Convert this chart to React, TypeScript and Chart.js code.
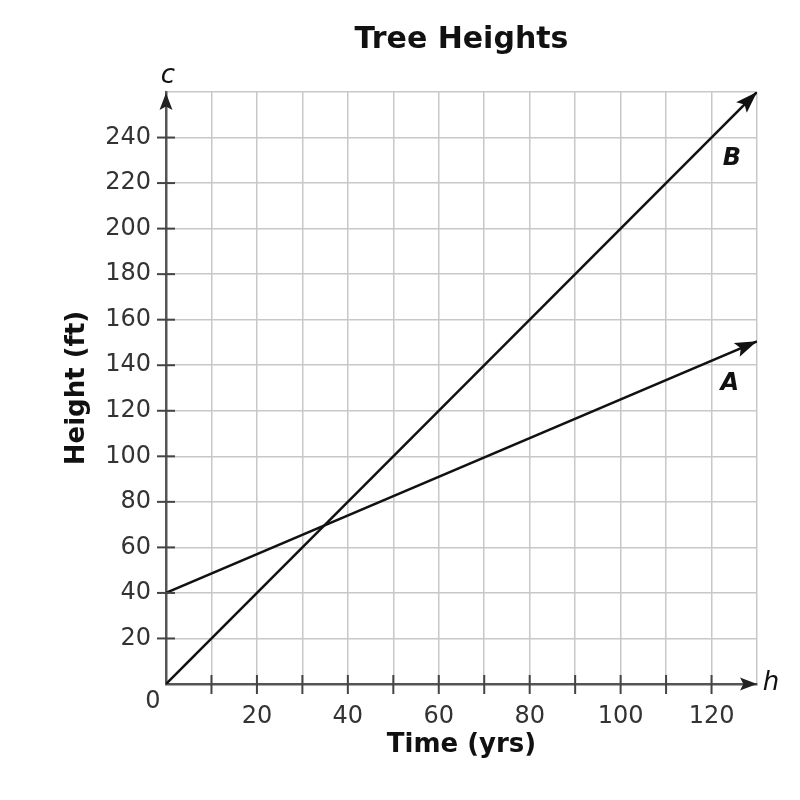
import React, { useEffect, useRef } from "react";
import { Chart, registerables } from "chart.js";

Chart.register(...registerables);

const titleText = "Tree Heights";
const xAxisTitle = "Time (yrs)";
const yAxisTitle = "Height (ft)";
const xRange = [0, 130];
const yRange = [0, 260];
const xStep = 10;
const yStep = 20;
const lineAPoints = [
  { x: 0, y: 40 },
  { x: 130, y: 150.5 },
];
const lineBPoints = [
  { x: 0, y: 0 },
  { x: 130, y: 260 },
];
const lineLabels = [
  { text: "A", x: 124, y: 132 },
  { text: "B", x: 124.5, y: 230.5 },
];

const FONT = "'DejaVu Sans', Verdana, sans-serif";

function arrowHead(ctx: CanvasRenderingContext2D, x: number, y: number, angle: number, len: number, half: number, color: string) {
  ctx.save();
  ctx.translate(x, y);
  ctx.rotate(angle);
  ctx.beginPath();
  ctx.moveTo(0, 0);
  ctx.lineTo(-len, -half);
  ctx.lineTo(-len * 0.8, 0);
  ctx.lineTo(-len, half);
  ctx.closePath();
  ctx.fillStyle = color;
  ctx.fill();
  ctx.restore();
}

const decorPlugin = {
  id: "decor",
  afterDatasetsDraw(chart: any) {
    const ctx: CanvasRenderingContext2D = chart.ctx;
    const xs = chart.scales.x;
    const ys = chart.scales.y;
    const x0 = xs.getPixelForValue(0);
    const y0 = ys.getPixelForValue(0);
    ctx.save();
    ctx.strokeStyle = "#444";
    ctx.lineWidth = 2;
    xs.ticks.forEach((t: any) => {
      if (t.value <= xRange[0] || t.value >= xRange[1]) return;
      const px = xs.getPixelForValue(t.value);
      ctx.beginPath();
      ctx.moveTo(px, y0 - 9);
      ctx.lineTo(px, y0 + 10);
      ctx.stroke();
    });
    ys.ticks.forEach((t: any) => {
      if (t.value <= yRange[0] || t.value >= yRange[1]) return;
      const py = ys.getPixelForValue(t.value);
      ctx.beginPath();
      ctx.moveTo(x0 - 9, py);
      ctx.lineTo(x0 + 9, py);
      ctx.stroke();
    });
    arrowHead(ctx, x0, ys.getPixelForValue(yRange[1]) + 1, -Math.PI / 2, 17, 6.5, "#222");
    arrowHead(ctx, xs.getPixelForValue(xRange[1]), y0, 0, 17, 6.5, "#222");
    chart.data.datasets.forEach((ds: any, i: number) => {
      const meta = chart.getDatasetMeta(i);
      const pts = meta.data;
      if (pts.length < 2) return;
      const a = pts[pts.length - 2];
      const b = pts[pts.length - 1];
      const ang = Math.atan2(b.y - a.y, b.x - a.x);
      arrowHead(ctx, b.x, b.y, ang, 22, 7.5, "#111");
    });
    ctx.fillStyle = "#111";
    ctx.textAlign = "center";
    ctx.textBaseline = "middle";
    ctx.font = `italic bold 24px ${FONT}`;
    lineLabels.forEach((l) => {
      ctx.fillText(l.text, xs.getPixelForValue(l.x), ys.getPixelForValue(l.y));
    });
    ctx.font = `italic 26px ${FONT}`;
    ctx.fillText("c", x0 + 2, ys.getPixelForValue(yRange[1]) - 16);
    ctx.fillText("h", xs.getPixelForValue(xRange[1]) + 14, y0 - 1);
    ctx.font = `24px ${FONT}`;
    ctx.fillStyle = "#333";
    ctx.fillText("0", x0 - 13, y0 + 18);
    ctx.restore();
  },
};

export default function App() {
  const ref = useRef<HTMLCanvasElement | null>(null);
  useEffect(() => {
    if (!ref.current) return;
    const chart = new Chart(ref.current, {
      type: "scatter",
      data: {
        datasets: [
          { label: "A", data: lineAPoints, showLine: true, borderColor: "#111", borderWidth: 2.5, pointRadius: 0 },
          { label: "B", data: lineBPoints, showLine: true, borderColor: "#111", borderWidth: 2.5, pointRadius: 0 },
        ],
      },
      options: {
        responsive: false,
        animation: false,
        layout: { padding: { left: 0, right: 43, top: 0, bottom: 0 } },
        plugins: {
          legend: { display: false },
          tooltip: { enabled: false },
          title: {
            display: true,
            text: titleText,
            fullSize: false,
            color: "#111",
            font: { family: FONT, size: 30, weight: "bold" },
            padding: { top: 22, bottom: 34 },
          },
        },
        scales: {
          x: {
            type: "linear",
            min: xRange[0],
            max: xRange[1],
            afterFit: (s: any) => {
              s.height = 116;
            },
            ticks: {
              stepSize: xStep,
              autoSkip: false,
              maxRotation: 0,
              padding: 18,
              color: "#333",
              font: { family: FONT, size: 24 },
              callback: (v: any) => (v % 20 === 0 && v > 0 && v <= 120 ? String(v) : ""),
            },
            grid: { color: "#c8c8c8", lineWidth: 1.5, drawTicks: false },
            border: { display: true, color: "#555", width: 2.5 },
            title: {
              display: true,
              text: xAxisTitle,
              color: "#111",
              font: { family: FONT, size: 26, weight: "bold" },
              padding: { top: 0, bottom: 39 },
            },
          },
          y: {
            type: "linear",
            min: yRange[0],
            max: yRange[1],
            afterFit: (s: any) => {
              s.width = 166;
            },
            ticks: {
              stepSize: yStep,
              autoSkip: false,
              padding: 15,
              color: "#333",
              font: { family: FONT, size: 24 },
              callback: (v: any) => (v > yRange[0] && v < yRange[1] ? String(v) : ""),
            },
            grid: { color: "#c8c8c8", lineWidth: 1.5, drawTicks: false },
            border: { display: true, color: "#555", width: 2.5 },
            title: {
              display: true,
              text: yAxisTitle,
              color: "#111",
              font: { family: FONT, size: 26, weight: "bold" },
              padding: { top: 62, bottom: 0 },
            },
          },
        },
      },
      plugins: [decorPlugin],
    } as any);
    return () => chart.destroy();
  }, []);
  return (
    <div style={{ position: "absolute", left: 0, top: 0, width: 800, height: 800 }}>
      <canvas ref={ref} width={800} height={800} style={{ display: "block" }} />
    </div>
  );
}
